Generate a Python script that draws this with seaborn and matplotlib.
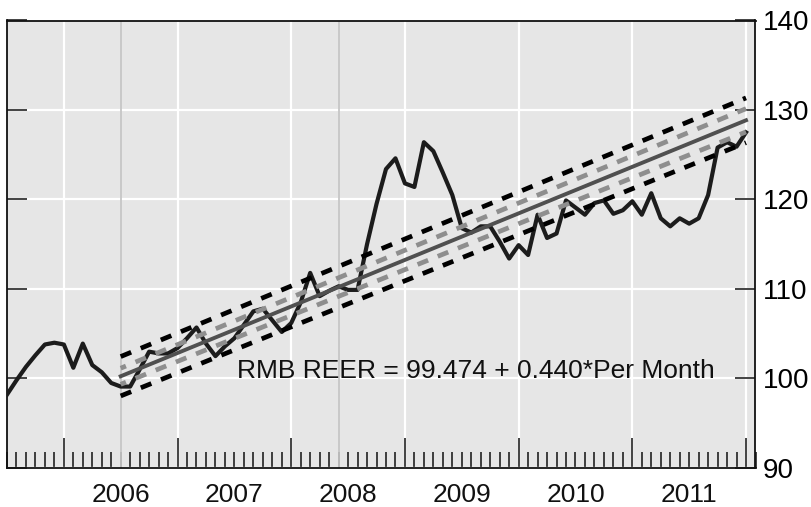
import matplotlib
matplotlib.use("Agg")
import numpy as np
import pandas as pd
import matplotlib.pyplot as plt
import seaborn as sns

# ---------------- data ----------------
start_year = 2005.5  # July 2005, monthly observations
reer = [98.2, 99.8, 101.3, 102.6, 103.8, 104.0, 103.8, 101.2, 103.9, 101.5,
        100.7, 99.5, 99.1, 99.1, 101.0, 103.0, 102.8, 102.8, 103.4, 104.5,
        105.7, 103.9, 102.5, 103.6, 104.5, 106.0, 107.5, 107.8, 106.5, 105.2,
        106.2, 108.5, 111.8, 109.2, 109.8, 110.3, 109.9, 109.9, 115.0, 119.5,
        123.4, 124.6, 121.8, 121.4, 126.4, 125.4, 123.0, 120.5, 116.8, 116.3,
        117.0, 117.0, 115.3, 113.4, 114.9, 113.8, 118.3, 115.7, 116.2, 119.9,
        119.1, 118.3, 119.6, 119.9, 118.4, 118.8, 119.8, 118.3, 120.7, 117.9,
        117.0, 117.9, 117.3, 117.9, 120.5, 125.8, 126.4, 125.9, 127.5]

trend_x = [2006.5, 2012.0]
trend = [100.25, 128.85]
upper_inner = [101.15, 130.15]
lower_inner = [99.35, 127.55]
upper_outer = [102.45, 131.35]
lower_outer = [98.05, 126.35]

year_labels = ["2006", "2007", "2008", "2009", "2010", "2011"]
y_ticks = [90, 100, 110, 120, 130, 140]
marker_lines = [2006.5, 2008.42]
annotation = "RMB REER = 99.474 + 0.440*Per Month"

# ---------------- style ----------------
plt.rcParams["font.family"] = ["Liberation Sans", "DejaVu Sans"]

fig = plt.figure(figsize=(8.12, 5.07), dpi=100)
ax = fig.add_axes([7 / 812, 1 - 468 / 507, (755.5 - 7) / 812, (468 - 20.5) / 507])
ax.set_facecolor("#e6e6e6")

xs = [start_year + i / 12 for i in range(len(reer))]
df = pd.DataFrame({"x": xs, "reer": reer})
bands = pd.DataFrame({"x": trend_x, "trend": trend, "ui": upper_inner,
                      "li": lower_inner, "uo": upper_outer, "lo": lower_outer})

for v in marker_lines:
    ax.axvline(v, color="#c6c6c6", lw=1.3, zorder=0.8)

sns.lineplot(data=df, x="x", y="reer", ax=ax, color="#1c1c1c", lw=3.0,
             estimator=None, zorder=3)
dash = (0, (2.4, 2.2))
for col in ["uo", "lo"]:
    sns.lineplot(data=bands, x="x", y=col, ax=ax, color="#000000", lw=3.4,
                 ls=dash, estimator=None, zorder=4)
for col in ["ui", "li"]:
    sns.lineplot(data=bands, x="x", y=col, ax=ax, color="#8e8e8e", lw=3.4,
                 ls=(1.2, (2.4, 2.2)), estimator=None, zorder=4)
sns.lineplot(data=bands, x="x", y="trend", ax=ax, color="#505050", lw=2.8,
             estimator=None, zorder=5)

ax.set_xlim(start_year + (1 / 9.5) / 12, start_year + (749.5 / 9.5) / 12)
ax.set_ylim(90, 140)
ax.set_xlabel("")
ax.set_ylabel("")

ax.set_axisbelow(True)
ax.set_xticks(list(range(2006, 2013)))
ax.set_xticks([start_year + i / 12 for i in range(0, 80)], minor=True)
ax.set_xticklabels([])
ax.set_yticks(y_ticks)
ax.grid(True, which="major", color="white", lw=1.6)
ax.grid(False, which="minor")

ax.tick_params(axis="x", which="major", direction="in", length=21.6, width=1.2,
               bottom=True, top=False, labelbottom=False, color="#222222")
ax.tick_params(axis="x", which="minor", direction="in", length=11.5, width=1.2,
               bottom=True, top=False, color="#222222")
ax.tick_params(axis="y", which="major", direction="in", length=14.4, width=1.2,
               left=True, right=True, labelleft=False, labelright=True,
               labelsize=20, pad=5.5, color="#222222")

for s in ax.spines.values():
    s.set_color("#111111")
    s.set_linewidth(1.3)

for i, lab in enumerate(year_labels):
    ax.annotate(lab, xy=(2006.5 + i, 0), xycoords=("data", "axes fraction"),
                xytext=(0, -24.5), textcoords="offset points",
                ha="center", va="baseline", fontsize=19, color="#111111")

ax.text(start_year + ((716 - 6) / 9.5) / 12, 100.0, annotation,
        ha="right", va="baseline", fontsize=19, color="#111111", zorder=6)

fig.savefig("out.png", dpi=100)
